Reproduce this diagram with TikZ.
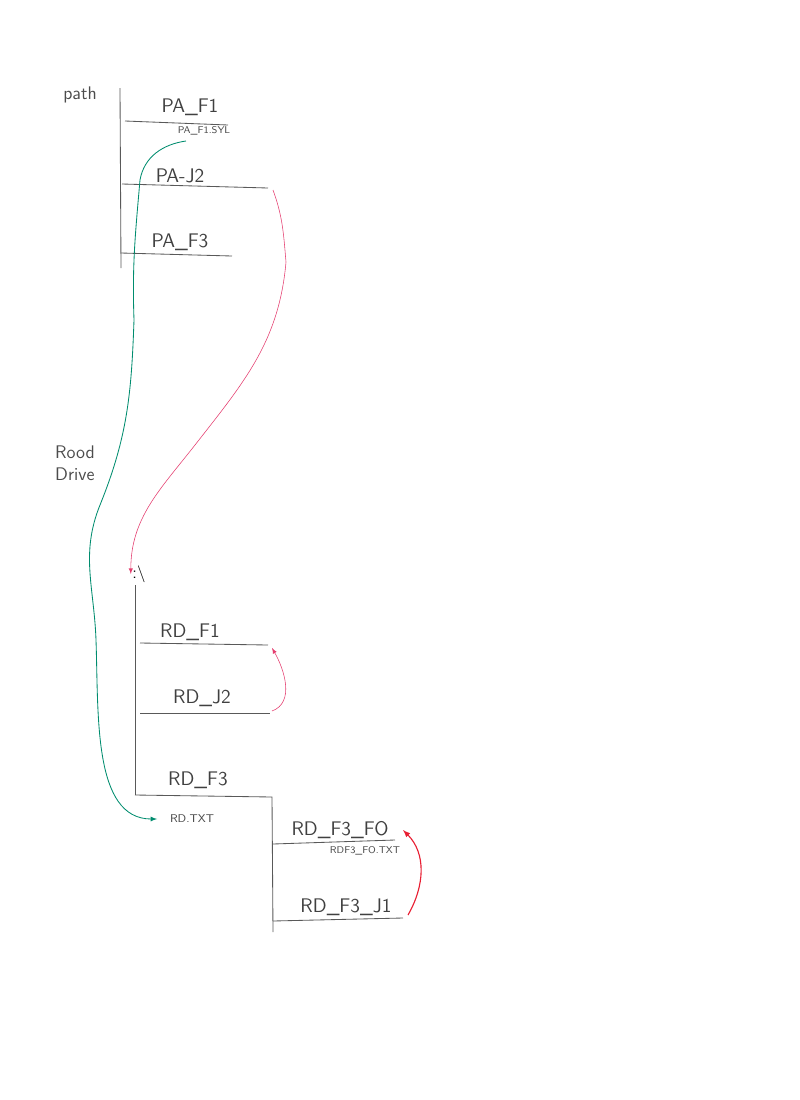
\documentclass[tikz,border=0pt]{standalone}
\usepackage{tikz}
\usetikzlibrary{arrows}

\begin{document}
\begin{tikzpicture}[x=0.025cm,y=-0.025cm,
    dirline/.style={draw=black!65,semithick},
    dirname/.style={font=\sffamily\fontsize{14}{16}\selectfont,text=black!75,inner sep=1pt},
    filename/.style={font=\sffamily\fontsize{7}{8}\selectfont,text=black!70,inner sep=1pt},
    hand/.style={font=\sffamily\fontsize{13}{16}\selectfont,text=black!70,align=left,inner sep=1pt},
    greenlink/.style={draw={rgb,255:red,0;green,140;blue,110},semithick,-latex},
    pinklink/.style={draw={rgb,255:red,228;green,60;blue,110},thin,-latex},
    redlink/.style={draw={rgb,255:red,232;green,30;blue,50},thick,-latex}]
    \useasboundingbox (0,0) rectangle (800,1100);

    % path side
    \node[hand] (pathlbl) at (80,95) {path};
    \coordinate (patop) at (120,88);
    \coordinate (pabot) at (121,268);
    \draw[dirline] (patop) -- (pabot);
    \node[dirname] (paf1) at (190,107) {PA\_F1};
    \coordinate (paf1a) at (125,121); \coordinate (paf1b) at (228,125);
    \draw[dirline] (paf1a) -- (paf1b);
    \node[filename] (pasyl) at (204,131) {PA\_F1.SYL};
    \node[dirname] (paj2) at (180,176) {PA-J2};
    \coordinate (paj2a) at (122,184); \coordinate (paj2b) at (268,188);
    \draw[dirline] (paj2a) -- (paj2b);
    \node[dirname] (paf3) at (180,242) {PA\_F3};
    \coordinate (paf3a) at (121,253); \coordinate (paf3b) at (232,256);
    \draw[dirline] (paf3a) -- (paf3b);

    % root drive side
    \node[hand] (rootlbl) at (75,463) {Rood\\Drive};
    \node[font=\sffamily\large,inner sep=1pt] (root) at (139,574) {:\textbackslash};
    \coordinate (rdtop) at (135,585);
    \coordinate (rdbot) at (135,795);
    \draw[dirline] (rdtop) -- (rdbot);
    \node[dirname] (rdf1) at (190,632) {RD\_F1};
    \coordinate (rdf1a) at (140,643); \coordinate (rdf1b) at (268,645);
    \draw[dirline] (rdf1a) -- (rdf1b);
    \node[dirname] (rdj2) at (202,698) {RD\_J2};
    \coordinate (rdj2a) at (140,713); \coordinate (rdj2b) at (270,713);
    \draw[dirline] (rdj2a) -- (rdj2b);
    \node[dirname] (rdf3) at (198,780) {RD\_F3};
    \coordinate (rdf3b) at (272,797); \coordinate (rdf3c) at (273,932);
    \draw[dirline] (rdbot) -- (rdf3b) -- (rdf3c);
    \node[filename,font=\sffamily\fontsize{8}{9}\selectfont] (rdtxt) at (192,819) {RD.TXT};
    \node[dirname] (rdf3f0) at (340,830) {RD\_F3\_FO};
    \coordinate (rdf0a) at (273,844); \coordinate (rdf0b) at (395,840);
    \draw[dirline] (rdf0a) -- (rdf0b);
    \node[filename] (rdf0txt) at (365,851) {RDF3\_FO.TXT};
    \node[dirname] (rdf3j1) at (346,907) {RD\_F3\_J1};
    \coordinate (rdj1a) at (273,921); \coordinate (rdj1b) at (403,918);
    \draw[dirline] (rdj1a) -- (rdj1b);

    % links
    \coordinate (gstart) at (186,141);
    \draw[greenlink,shorten >=8pt] (gstart) to[out=188,in=80] (140,180) to[out=-95,in=92] (134,320)
        to[out=-92,in=68] (100,505) to[out=-112,in=92] (96,640) to[out=-88,in=180] (rdtxt.west);
    \coordinate (pstart) at (273,190);
    \draw[pinklink] (pstart) to[out=-70,in=95] (286,262) to[out=-95,in=52] (195,445)
        to[out=-128,in=90] (root.west);
    \draw[pinklink] (rdj2b) ++(2,-2) to[out=20,in=-60] (272,648);
    \draw[redlink] (rdj1b) ++(5,-3) to[out=60,in=-45] (403,830);
\end{tikzpicture}
\end{document}
